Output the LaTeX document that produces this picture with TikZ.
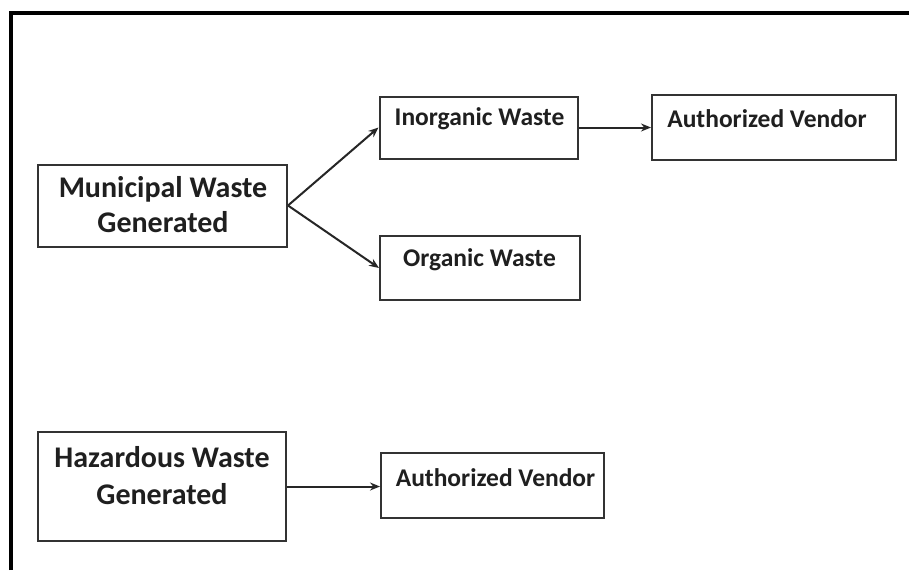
\documentclass[tikz,border=0pt]{standalone}
\usepackage{fontspec}
\setmainfont{Carlito}
\usetikzlibrary{arrows.meta}
\begin{document}
\begin{tikzpicture}[x=1pt,y=-1pt,
  box/.style={draw=black!80,line width=2pt,rectangle,inner sep=0pt},
  bigtxt/.style={font=\fontsize{30}{36}\selectfont\bfseries,text=black!88,align=center,inner sep=0pt},
  smalltxt/.style={font=\fontsize{25.5}{30}\selectfont\bfseries,text=black!88,inner sep=0pt},
  arr/.style={draw=black!85,line width=2pt,-{Stealth[length=10pt,width=8pt]}}]
\useasboundingbox (0,0) rectangle (909,570);
\fill[white] (0,0) rectangle (909,570);
% outer frame (top and left edges visible)
\draw[line width=3.5pt,black] (11,570) -- (11,13) -- (909,13);
% boxes
\node[box,minimum width=249pt,minimum height=82pt] (mun) at (162.5,205.5) {};
\node[box,minimum width=198pt,minimum height=62pt] (inorg) at (478.5,127.5) {};
\node[box,minimum width=200pt,minimum height=64pt] (org) at (480,268) {};
\node[box,minimum width=244pt,minimum height=65pt] (av1) at (774,127.5) {};
\node[box,minimum width=248pt,minimum height=109pt] (haz) at (162,486.5) {};
\node[box,minimum width=223pt,minimum height=65pt] (av2) at (492.5,485.5) {};
% texts
\node[bigtxt] (tmun) at (163,205) {Municipal Waste\\[-1pt]Generated};
\node[smalltxt] (tinorg) at (479.5,119) {Inorganic Waste};
\node[smalltxt] (torg) at (479.5,260) {Organic Waste};
\node[smalltxt] (tav1) at (767,119) {Authorized Vendor};
\node[bigtxt] (thaz) at (162,476) {Hazardous Waste\\[1pt]Generated};
\node[smalltxt] (tav2) at (495.5,478) {Authorized Vendor};
% connectors
\coordinate (mo) at (mun.east);
\draw[arr] (mo) -- (inorg.west);
\draw[arr] (mo) -- (org.west);
\draw[arr] (inorg.east) -- (inorg.east -| av1.west);
\draw[arr] (haz.east) -- (haz.east -| av2.west);
\end{tikzpicture}
\end{document}
